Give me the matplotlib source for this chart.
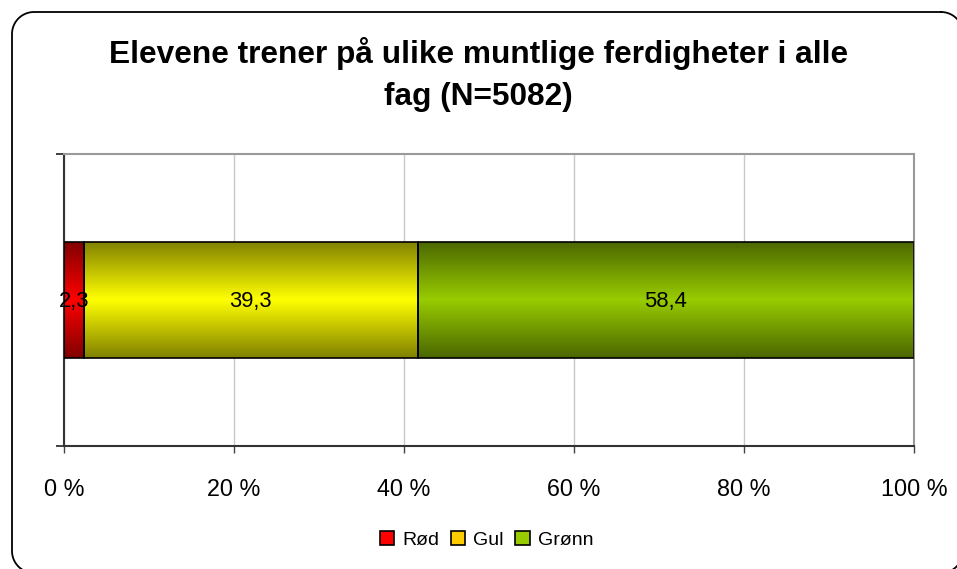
#!/usr/bin/env python3
"""
Stacked horizontal bar: Elevene trener på ulike muntlige ferdigheter
"""

import numpy as np
import matplotlib
matplotlib.use("Agg")
import matplotlib.pyplot as plt
from matplotlib.colors import LinearSegmentedColormap
from matplotlib.lines import Line2D

plt.rcParams['font.family'] = ['Liberation Sans', 'DejaVu Sans']

title_lines = ["Elevene trener på ulike muntlige ferdigheter i alle", "fag (N=5082)"]
categories = ["Rød", "Gul", "Grønn"]
values = [2.3, 39.3, 58.4]
labels = ["2,3", "39,3", "58,4"]
xticks = [0, 20, 40, 60, 80, 100]
xtick_labels = ["0 %", "20 %", "40 %", "60 %", "80 %", "100 %"]

# edge colour / middle colour of the vertical gradient, legend swatch colour
shades = [("#800000", "#ff0000", "#ff0000"),
          ("#808000", "#ffff00", "#ffcc00"),
          ("#4a6600", "#99cc00", "#99cc00")]

W, H = 957, 569


def gradient_bar(ax, bar, dark, light):
    """Fill a bar with a dark-light-dark vertical gradient"""
    x0, y0 = bar.get_x(), bar.get_y()
    w, h = bar.get_width(), bar.get_height()
    cmap = LinearSegmentedColormap.from_list("g", [dark, light, dark])
    grad = np.linspace(0, 1, 256).reshape(-1, 1)
    im = ax.imshow(grad, cmap=cmap, aspect='auto',
                   extent=(x0, x0 + w, y0, y0 + h), origin='lower', zorder=2)
    im.set_clip_path(bar)
    bar.set_facecolor('none')
    bar.set_zorder(3)


def rounded_frame(x0, y0, x1, y1, r):
    """Rounded rectangle outline in figure fractions (pixel input, y from top)"""
    pts = []
    corners = [(x1 - r, y0 + r, -90, 0), (x1 - r, y1 - r, 0, 90),
               (x0 + r, y1 - r, 90, 180), (x0 + r, y0 + r, 180, 270)]
    for cx, cy, a0, a1 in corners:
        t = np.radians(np.linspace(a0, a1, 20))
        pts += list(zip(cx + r * np.cos(t), cy + r * np.sin(t)))
    pts.append(pts[0])
    xs = [p[0] / W for p in pts]
    ys = [1 - p[1] / H for p in pts]
    return xs, ys


fig = plt.figure(figsize=(9.57, 5.69), dpi=100)
ax = fig.add_axes([0.0669, 0.2162, 0.8882, 0.5131])

left = 0
for val, lab, (dark, light, swatch), cat in zip(values, labels, shades, categories):
    bars = ax.barh(0.5, val, left=left, height=0.4, edgecolor='black',
                   linewidth=1.2, color=swatch, label=cat)
    gradient_bar(ax, bars[0], dark, light)
    ax.text(left + val / 2, 0.495, lab, ha='center', va='center',
            fontsize=15.8, color='black', zorder=4)
    left += val

ax.set_xlim(0, 100)
ax.set_ylim(0, 1)
ax.set_xticks(xticks)
ax.set_xticklabels(xtick_labels, fontsize=16.8)
ax.set_yticks([0, 1])
ax.set_yticklabels([])
ax.tick_params(axis='y', length=6, width=1.2, color='#222222')
ax.tick_params(axis='x', length=5, width=1, color='#444444', pad=18)
ax.xaxis.grid(True, color='#c8c8c8', linewidth=1)
ax.set_axisbelow(True)
for side in ('top', 'right'):
    ax.spines[side].set_color('#999999')
    ax.spines[side].set_linewidth(1.5)
for side in ('left', 'bottom'):
    ax.spines[side].set_color('#333333')
    ax.spines[side].set_linewidth(1.5)

fig.text(0.5, 1 - 54 / H, title_lines[0], ha='center', va='center',
         fontsize=22.8, fontweight='bold')
fig.text(0.5, 1 - 97 / H, title_lines[1], ha='center', va='center',
         fontsize=22.8, fontweight='bold')

leg = fig.legend(loc='center', bbox_to_anchor=(0.5 + 8 / W, 1 - 540 / H), ncol=3,
                 frameon=False, fontsize=14, handlelength=0.75,
                 handleheight=0.75, handletextpad=0.4, columnspacing=0.6)
for patch, (dark, light, swatch) in zip(leg.get_patches(), shades):
    patch.set_facecolor(swatch)
    patch.set_edgecolor('black')

# rounded frame around the whole chart, running off the right and bottom edge
fx, fy = rounded_frame(12, 12, 963, 573, 22)
fig.add_artist(Line2D(fx, fy, transform=fig.transFigure, color='black',
                      linewidth=1.3))

fig.savefig("out.png", dpi=100)
